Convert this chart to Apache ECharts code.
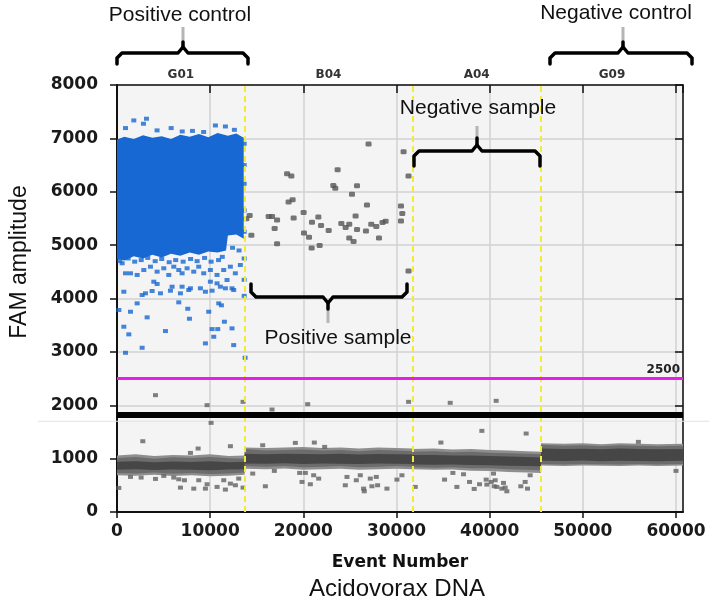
<!DOCTYPE html>
<html><head><meta charset="utf-8">
<script src="https://cdn.jsdelivr.net/npm/echarts@6/dist/echarts.min.js"></script>
<style>html,body{margin:0;padding:0;background:#fff}#c{width:709px;height:600px}</style>
</head><body><div id="c"></div>
<script>
// ---------- data ----------
const wellNames = ['G01', 'B04', 'A04', 'G09'];
const wellBounds = [0, 13700, 31700, 45500, 60750];
const dividers = [13700, 31700, 45500];
const thresholdValue = 2500;
const clusterLineValue = 1820;
const faintLineValue = 1700;

// dense positive (blue) cluster envelope in well G01
const blueEdgeX      = [0, 800, 1800, 2800, 3800, 4800, 5800, 6800, 7800, 8800, 9800, 10800, 11700, 11900, 12800, 13600];
const blueEdgeTop    = [6980, 7030, 6990, 7060, 7010, 7040, 6990, 7070, 7030, 7080, 7020, 7100, 7060, 7050, 7090, 7010];
const blueEdgeBottom = [4740, 4710, 4790, 4750, 4820, 4770, 4840, 4800, 4860, 4820, 4880, 4860, 4900, 5180, 5200, 5120];

// negative droplet bands (light fringe, outer spread and dense core) per well
const g01X = [0, 2000, 4000, 6000, 8000, 10000, 12000, 13700];
const g01FringeHi = [1060, 1080, 1050, 1070, 1060, 1080, 1050, 1060];
const g01FringeLo = [690, 680, 700, 675, 690, 670, 680, 700];
const g01OuterHi = [1010, 1030, 1000, 1025, 1010, 1030, 1005, 1000];
const g01OuterLo = [730, 720, 740, 715, 730, 710, 720, 740];
const g01CoreHi  = [940, 950, 930, 945, 935, 950, 930, 940];
const g01CoreLo  = [790, 800, 785, 795, 790, 780, 795, 800];

const b04X = [13700, 16000, 18000, 20000, 22000, 24000, 26000, 28000, 30000, 31700];
const b04FringeHi = [1210, 1200, 1210, 1220, 1200, 1210, 1190, 1210, 1200, 1190];
const b04FringeLo = [810, 800, 815, 790, 800, 810, 790, 800, 810, 800];
const b04OuterHi = [1180, 1150, 1160, 1170, 1150, 1160, 1140, 1160, 1150, 1140];
const b04OuterLo = [860, 850, 860, 840, 850, 860, 840, 850, 860, 850];
const b04CoreHi  = [1090, 1080, 1090, 1085, 1080, 1090, 1075, 1085, 1080, 1075];
const b04CoreLo  = [910, 905, 915, 900, 910, 905, 900, 910, 905, 900];

const a04X = [31700, 34000, 36000, 38000, 40000, 42000, 44000, 45500];
const a04FringeHi = [1180, 1190, 1170, 1180, 1160, 1150, 1140, 1130];
const a04FringeLo = [800, 790, 795, 775, 770, 750, 740, 730];
const a04OuterHi = [1130, 1140, 1120, 1130, 1110, 1100, 1090, 1080];
const a04OuterLo = [840, 830, 840, 820, 820, 800, 790, 780];
const a04CoreHi  = [1070, 1070, 1060, 1060, 1050, 1040, 1030, 1020];
const a04CoreLo  = [890, 885, 890, 880, 875, 865, 860, 855];

const g09X = [45500, 48000, 50000, 52000, 54000, 56000, 58000, 60750];
const g09FringeHi = [1290, 1280, 1290, 1270, 1290, 1280, 1270, 1280];
const g09FringeLo = [870, 860, 870, 865, 860, 870, 860, 870];
const g09OuterHi = [1260, 1240, 1250, 1230, 1250, 1240, 1230, 1240];
const g09OuterLo = [900, 890, 900, 895, 890, 900, 890, 900];
const g09CoreHi  = [1190, 1180, 1185, 1175, 1190, 1180, 1175, 1180];
const g09CoreLo  = [960, 955, 965, 950, 960, 955, 950, 960];

// individual positive droplets (blue) outside the dense cluster
const blueDroplets = [
  [912,7193],[1805,7336],[2840,7274],[3163,7368],[5812,7193],[10563,7242],[11635,7223],[4300,7150],[8100,7140],[12600,7160],[7000,7130],[9300,7120],
  [300,4700],[1200,4750],[1900,4690],[2600,4720],[3300,4760],[4100,4700],[4800,4740],[5600,4680],[6300,4720],[7100,4690],[7900,4740],[8600,4700],[9400,4760],[10100,4690],[10900,4720],[11300,4780],[12400,4950],[13100,4900],
  [554,4660],[912,4472],[1448,4472],[2163,4441],[2877,4534],[3592,4596],[4307,4503],[5022,4566],[5558,4441],[6095,4596],[6630,4534],[6987,4472],[7522,4566],[8237,4503],[8772,4596],[9308,4472],[10023,4534],[10738,4441],[11452,4534],[12167,4596],[12703,4472],[13239,4628],
  [3950,4315],[4307,4272],[5916,4221],[6987,4221],[7880,4191],[8951,4191],[10023,4315],[10738,4284],[11810,4347],[12346,4191],[12524,4159],
  [733,4127],[2698,4065],[3056,4097],[3770,4140],[4665,4097],[5737,4146],[6810,4097],[7703,4159],[9491,4127],[10206,4146],[11099,4221],[11635,4191],
  [197,3784],[1448,3752],[2163,3909],[3235,3647],[6630,3928],[7596,3808],[7775,3621],[9848,3752],[10920,3909],[11207,3872],[11528,3565],[10206,3427],[10813,3427],[10384,3283],[12346,3440],[5201,3390],[733,3471],[1269,3328],[12524,3127],[9491,3159],[2698,3077],[912,2983],
  [13650,6900],[13650,6500],[13650,6150],[13650,5650],[13650,5250],[13650,4750],[13650,4350],[13650,4050],[13750,2890]
];

// scattered positive droplets in sample B04 (grey dots)
const b04Droplets = [
  [27000,6893],[30760,6749],[23680,6411],[18250,6336],[18710,6293],[31290,6293],[23220,6116],[23430,6067],[25760,6111],[25220,5955],
  [18420,5810],[18850,5848],[26830,5754],[30480,5735],[20030,5610],[30620,5591],[14240,5553],[16280,5535],[16640,5535],[17180,5473],
  [18960,5510],[21610,5529],[20930,5430],[21900,5366],[24080,5403],[24930,5392],[24540,5328],[25610,5548],[25760,5291],[22720,5272],
  [27290,5392],[27830,5347],[28500,5422],[28830,5448],[30480,5454],[26720,5266],[16920,5310],[14420,5186],[20070,5229],[20610,5148],
  [24930,5135],[25390,5066],[28120,5135],[17180,5028],[21750,4991],[20890,4947],[31290,4516],[13890,5493]
];

// scattered droplets around the negative bands (grey squares)
const greyDroplets = [
  [4129,2189],[9670,2002],[13530,2064],[16640,1920],[20465,2020],[31296,2064],[35765,2045],[40697,2083],
  [10099,1670],[2770,1326],[12172,1233],[8705,1189],[7882,1107],[15639,1251],[19143,1295],[21180,1301],[22288,1220],[34764,1301],[39161,1520],[43915,1470],[55962,1314],
  [197,451],[1448,657],[2592,645],[4129,620],[5022,676],[6095,645],[6810,457],[7239,595],[8239,438],[8776,595],[9491,438],[9670,520],[10742,470],[11457,595],[11635,420],[12172,532],[12708,501],[13065,626],[13530,457],[6630,613],
  [14567,720],[15925,482],[16890,770],[19607,732],[19858,563],[20215,732],[21108,688],[21645,626],[20751,520],[24683,657],[24505,501],[25684,595],[26113,688],[26470,438],[26541,388],[27185,626],[27364,482],[27972,501],[27829,657],[28973,438],[30045,607],[30581,688],
  [32011,470],[35157,607],[36480,470],[36051,732],[37195,707],[37838,563],[38339,432],[38911,520],[39625,607],[39697,513],[40161,563],[40769,470],[40411,720],[40590,595],[40483,482],[41484,545],[41305,438],[41842,388],[41663,457],[43343,482],[44058,438],[43808,563],[44344,688],
  [59999,770]
];

// ---------- chart ----------
const BLUE = '#1768d2';
const FRINGE = '#8e8e8e', OUTER = '#6c6c6c', CORE = '#464646';
const bands = [
  {x: g01X, hi: g01FringeHi, lo: g01FringeLo, color: FRINGE},
  {x: b04X, hi: b04FringeHi, lo: b04FringeLo, color: FRINGE},
  {x: a04X, hi: a04FringeHi, lo: a04FringeLo, color: FRINGE},
  {x: g09X, hi: g09FringeHi, lo: g09FringeLo, color: FRINGE},
  {x: g01X, hi: g01OuterHi, lo: g01OuterLo, color: OUTER},
  {x: b04X, hi: b04OuterHi, lo: b04OuterLo, color: OUTER},
  {x: a04X, hi: a04OuterHi, lo: a04OuterLo, color: OUTER},
  {x: g09X, hi: g09OuterHi, lo: g09OuterLo, color: OUTER},
  {x: g01X, hi: g01CoreHi, lo: g01CoreLo, color: CORE},
  {x: b04X, hi: b04CoreHi, lo: b04CoreLo, color: CORE},
  {x: a04X, hi: a04CoreHi, lo: a04CoreLo, color: CORE},
  {x: g09X, hi: g09CoreHi, lo: g09CoreLo, color: CORE},
  {x: blueEdgeX, hi: blueEdgeTop, lo: blueEdgeBottom, color: BLUE}
];

const chart = echarts.init(document.getElementById('c'), null, {renderer: 'canvas'});
const tickFont = {fontFamily: 'DejaVu Sans', fontWeight: 'bold', fontSize: 17, color: '#1a1a1a', formatter: v => String(v)};

const option = {
  animation: false,
  backgroundColor: '#ffffff',
  grid: {left: 117, right: 26, top: 85, bottom: 88, show: true, backgroundColor: '#f4f4f4', borderWidth: 0},
  xAxis: [
    {type: 'value', min: wellBounds[0], max: wellBounds[4], interval: 10000, position: 'bottom',
     axisLine: {show: true, onZero: false, lineStyle: {color: '#111', width: 2}},
     axisTick: {show: true, length: 6, lineStyle: {color: '#111', width: 1.5}},
     axisLabel: Object.assign({margin: 11, showMaxLabel: false}, tickFont),
     splitLine: {show: true, lineStyle: {color: '#d2d2d2', width: 1.5}}},
    {type: 'value', min: wellBounds[0], max: wellBounds[4], interval: 10000, position: 'top',
     axisLine: {show: true, onZero: false, lineStyle: {color: '#111', width: 1.5}},
     axisTick: {show: true, inside: true, length: 8, lineStyle: {color: '#111', width: 1.5}},
     axisLabel: {show: false}, splitLine: {show: false}}
  ],
  yAxis: [
    {type: 'value', min: 0, max: 8000, interval: 1000, position: 'left',
     axisLine: {show: true, onZero: false, lineStyle: {color: '#111', width: 2}},
     axisTick: {show: true, length: 7, lineStyle: {color: '#111', width: 1.5}},
     axisLabel: Object.assign({margin: 19}, tickFont),
     splitLine: {show: true, lineStyle: {color: '#d2d2d2', width: 1.5}}},
    {type: 'value', min: 0, max: 8000, interval: 1000, position: 'right',
     axisLine: {show: true, onZero: false, lineStyle: {color: '#111', width: 1.5}},
     axisTick: {show: true, inside: true, length: 8, lineStyle: {color: '#111', width: 1.5}},
     axisLabel: {show: false}, splitLine: {show: false}}
  ],
  series: [
    {type: 'custom', name: 'clusters', z: 2, clip: true,
     data: bands.map(b => [b.x[0], b.lo[0]]),
     encode: {x: 0, y: 1},
     renderItem: function (params, api) {
       const b = bands[params.dataIndex];
       const pts = [];
       for (let i = 0; i < b.x.length; i++) pts.push(api.coord([b.x[i], b.hi[i]]));
       for (let i = b.x.length - 1; i >= 0; i--) pts.push(api.coord([b.x[i], b.lo[i]]));
       return {type: 'polygon', shape: {points: pts}, style: {fill: b.color}};
     }},
    {type: 'scatter', name: 'positive', z: 3, symbol: 'rect', symbolSize: [5, 4],
     itemStyle: {color: BLUE}, data: blueDroplets},
    {type: 'scatter', name: 'sampleDots', z: 3, symbol: 'roundRect', symbolSize: [6, 5],
     itemStyle: {color: '#555555'}, data: b04Droplets},
    {type: 'scatter', name: 'greyDots', z: 3, symbol: 'rect', symbolSize: [5, 4],
     itemStyle: {color: '#616161'}, data: greyDroplets},
    {type: 'scatter', name: 'wells', z: 4, data: [],
     markArea: {silent: true, itemStyle: {color: 'rgba(0,0,0,0)'},
       label: {show: true, position: 'top', distance: 4, fontFamily: 'DejaVu Sans', fontWeight: 'bold', fontSize: 12, color: '#333'},
       data: wellNames.map((n, i) => [{name: n, xAxis: wellBounds[i]}, {xAxis: wellBounds[i + 1]}])},
     markLine: {silent: true, symbol: 'none', label: {show: false},
       lineStyle: {color: '#f1ec3c', type: [6, 4], width: 2},
       data: dividers.map(d => ({xAxis: d}))}},
    {type: 'scatter', name: 'thresholds', z: 6, data: [],
     markLine: {silent: true, symbol: 'none',
       data: [
         {yAxis: thresholdValue, lineStyle: {color: '#e61ee6', width: 3, type: 'solid'},
          label: {show: true, position: 'insideEndTop', formatter: String(thresholdValue), distance: 3,
                  fontFamily: 'DejaVu Sans', fontWeight: 'bold', fontSize: 12, color: '#222'}},
         {yAxis: clusterLineValue, lineStyle: {color: '#000', width: 6, type: 'solid'}, label: {show: false}}
       ]}}
  ]
};
chart.setOption(option);

// ---------- annotations ----------
const faintY = chart.convertToPixel({yAxisIndex: 0}, faintLineValue);
const textEl = (txt, x, y, size, weight, family) => ({
  type: 'text', x: x, y: y, z: 100,
  style: {text: txt, fontSize: size, fontWeight: weight || 'normal', fontFamily: family || 'Liberation Sans',
          fill: '#111', textAlign: 'center', textVerticalAlign: 'middle'}
});
const braceStyle = {stroke: '#000', lineWidth: 3.5, fill: null, lineCap: 'round', lineJoin: 'round'};
function braceEls(l, r, c, y, end, tip) {
  const d = end > y ? 5 : -5;
  const t = tip < y ? -6 : 6;
  return [
    {type: 'polyline', z: 100, shape: {points: [[l, end], [l, y + d], [l + 5, y], [c - 5, y], [c, y + t], [c, tip]]}, style: braceStyle},
    {type: 'polyline', z: 100, shape: {points: [[c, y + t], [c + 5, y], [r - 5, y], [r, y + d], [r, end]]}, style: braceStyle}
  ];
}
const stemEl = (x, y1, y2) => ({type: 'line', z: 99, shape: {x1: x, y1: y1, x2: x, y2: y2},
  style: {stroke: '#b5b5b5', lineWidth: 3}});

chart.setOption({
  graphic: [
    {type: 'line', z: 1, shape: {x1: 38, y1: faintY, x2: 709, y2: faintY}, style: {stroke: '#e2e2e2', lineWidth: 1}},
    textEl('Positive control', 180, 15, 21),
    textEl('Negative control', 616, 13, 21),
    textEl('Negative sample', 478, 108, 21),
    textEl('Positive sample', 338, 338, 21),
    stemEl(183, 42, 27), ...braceEls(117, 248, 183, 53, 64, 42),
    stemEl(623, 42, 27), ...braceEls(550, 692, 623, 53, 64, 42),
    stemEl(477, 138, 126), ...braceEls(414, 540, 477, 151, 166, 138),
    stemEl(328, 309, 323), ...braceEls(251, 407, 328, 297, 284, 309),
    textEl('Event Number', 400, 563, 17, 'bold', 'DejaVu Sans'),
    textEl('Acidovorax DNA', 397, 589, 24),
    {type: 'text', x: 20, y: 262, rotation: Math.PI / 2, z: 100,
     style: {text: 'FAM amplitude', fontSize: 23, fontFamily: 'Liberation Sans', fill: '#111',
             textAlign: 'center', textVerticalAlign: 'middle'}}
  ]
});
</script>
</body></html>
